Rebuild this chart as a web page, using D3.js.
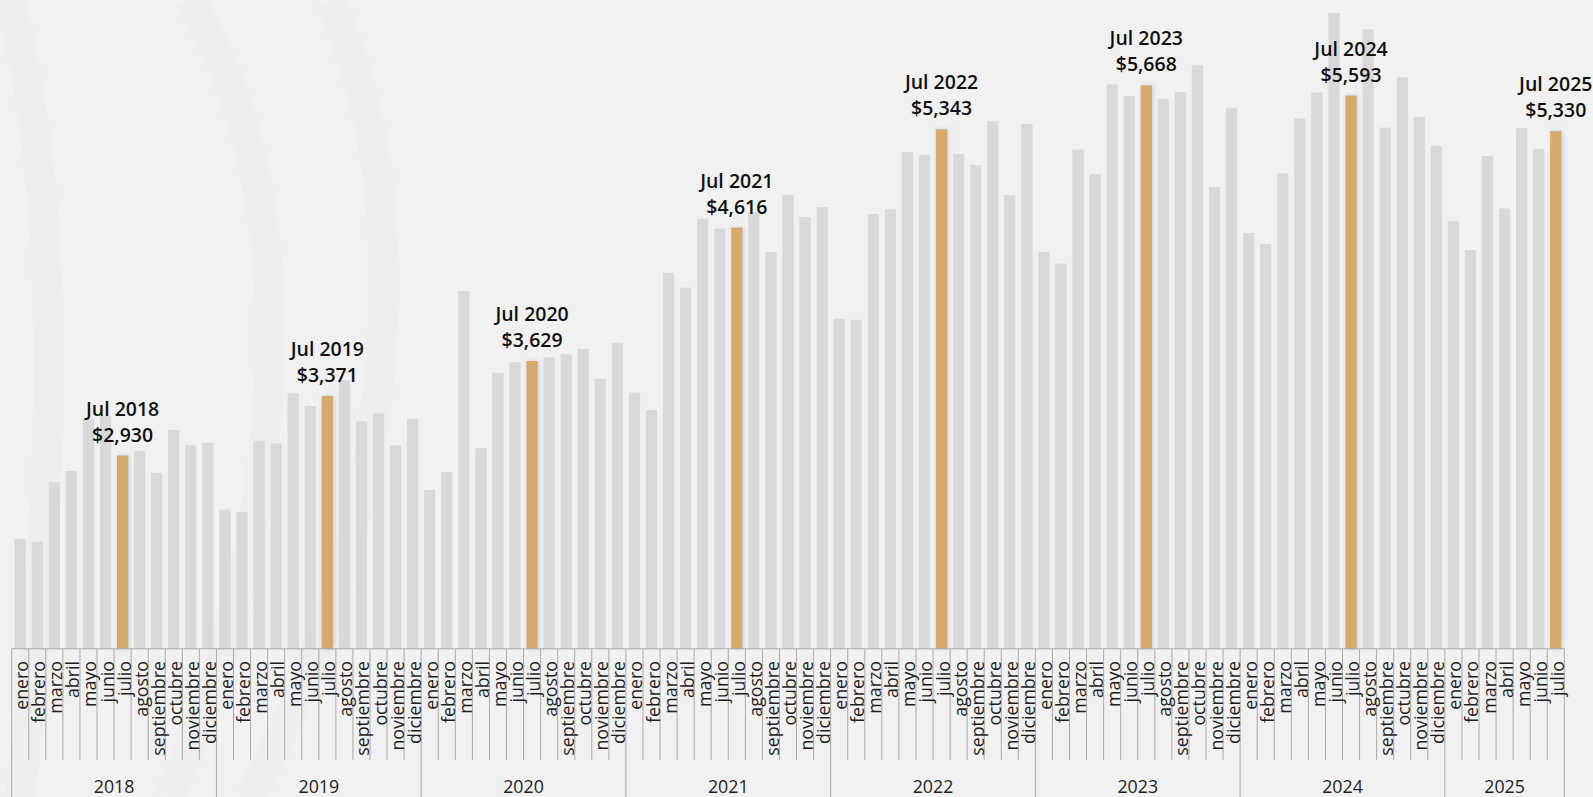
<!DOCTYPE html>
<html>
<head>
<meta charset="utf-8">
<script src="https://cdn.jsdelivr.net/npm/d3@7"></script>
<style>
  html, body { margin: 0; padding: 0; background: #f1f1f1; }
  svg { display: block; }
</style>
</head>
<body>
<svg id="chart" width="1593" height="797"></svg>
<script>
const months = ["enero","febrero","marzo","abril","mayo","junio","julio","agosto","septiembre","octubre","noviembre","diciembre"];
const years = ["2018","2019","2020","2021","2022","2023","2024","2025"];
const highlightMonth = "julio";
const monthAbbrev = "Jul";

const values2018 = [2313, 2292, 2733, 2815, 3205, 3222, 2930, 2963, 2802, 3119, 3005, 3024];
const values2019 = [2530, 2511, 3040, 3019, 3391, 3296, 3371, 3486, 3182, 3243, 3005, 3201];
const values2020 = [2675, 2807, 4147, 2984, 3542, 3620, 3629, 3655, 3679, 3719, 3497, 3764];
const values2021 = [3396, 3267, 4282, 4171, 4683, 4609, 4616, 4730, 4435, 4857, 4694, 4768];
const values2022 = [3941, 3933, 4717, 4752, 5175, 5151, 5343, 5161, 5079, 5404, 4857, 5383];
const values2023 = [4437, 4350, 5193, 5011, 5676, 5589, 5668, 5568, 5618, 5817, 4916, 5499];
const values2024 = [4577, 4496, 5016, 5423, 5616, 6205, 5593, 6082, 5356, 5728, 5435, 5221];
const values2025 = [4664, 4450, 5145, 4758, 5352, 5198, 5330];
const yDomain = [1500, 6300];

const valuesByYear = [values2018, values2019, values2020, values2021, values2022, values2023, values2024, values2025];

const data = [];
valuesByYear.forEach((vals, yi) => {
  vals.forEach((v, mi) => {
    data.push({ idx: data.length, year: years[yi], month: months[mi], value: v });
  });
});
const n = data.length;

const svg = d3.select("#chart");
const W = 1593, H = 797;
const left = 11.7, right = 1564.3, baseY = 648.8;

// background
svg.append("rect").attr("width", W).attr("height", H).attr("fill", "#f1f1f1");
const deco = svg.append("g").attr("fill", "none").attr("stroke", "#eeeeee").attr("stroke-width", 30).attr("opacity", 0.7);
deco.append("path").attr("d", "M10,0 C60,200 60,450 20,797");
deco.append("path").attr("d", "M190,0 C300,180 300,500 170,797");
deco.append("path").attr("d", "M330,0 C420,200 400,520 250,797");

const defs = svg.append("defs");
const glow = defs.append("filter").attr("id", "glow").attr("x", "-50%").attr("y", "-10%").attr("width", "200%").attr("height", "120%");
glow.append("feDropShadow").attr("dx", 1).attr("dy", 0).attr("stdDeviation", 2)
  .attr("flood-color", "#8fb0e6").attr("flood-opacity", 0.55);

const x = d3.scaleBand().domain(d3.range(n)).range([left, right]).paddingInner(0.34).paddingOuter(0.17);
const y = d3.scaleLinear().domain(yDomain).range([baseY, 0]);
const step = x.step();

// bars
svg.append("g").selectAll("rect").data(data).join("rect")
  .attr("x", d => x(d.idx))
  .attr("y", d => y(d.value))
  .attr("width", x.bandwidth())
  .attr("height", d => y(yDomain[0]) - y(d.value))
  .attr("fill", d => d.month === highlightMonth ? "#d7aa69" : "#d9d9d9")
  .attr("filter", d => d.month === highlightMonth ? "url(#glow)" : null);

// value labels for highlighted month
const fmt = d3.format(",");
const lab = svg.append("g").attr("font-family", "'Open Sans', sans-serif").attr("font-size", 19.5)
  .attr("font-weight", 600).attr("fill", "#111").attr("text-anchor", "middle");
data.filter(d => d.month === highlightMonth).forEach(d => {
  const cx = x(d.idx) + x.bandwidth() / 2;
  const ty = y(d.value);
  lab.append("text").attr("x", cx).attr("y", ty - 40).text(monthAbbrev + " " + d.year);
  lab.append("text").attr("x", cx).attr("y", ty - 14).text("$" + fmt(d.value));
});

// axis
const axis = svg.append("g").attr("stroke", "#a9a9a9").attr("stroke-width", 1);
axis.append("line").attr("x1", left).attr("x2", right).attr("y1", baseY).attr("y2", baseY);
const yearStarts = new Set();
let acc = 0;
valuesByYear.forEach(v => { yearStarts.add(acc); acc += v.length; });
yearStarts.add(n);
for (let i = 0; i <= n; i++) {
  const xx = x.range()[0] + i * step;
  axis.append("line").attr("x1", xx).attr("x2", xx).attr("y1", baseY)
    .attr("y2", yearStarts.has(i) ? H : 760);
}

// month labels
const ml = svg.append("g").attr("font-family", "'Open Sans', sans-serif").attr("font-size", 17.8).attr("fill", "#1e1e1e");
data.forEach(d => {
  const cx = x(d.idx) + x.bandwidth() / 2 + 8;
  ml.append("text").attr("transform", `translate(${cx},661) rotate(-90)`)
    .attr("text-anchor", "end").text(d.month);
});

// year labels
const yl = svg.append("g").attr("font-family", "'Open Sans', sans-serif").attr("font-size", 17.8)
  .attr("fill", "#1e1e1e").attr("text-anchor", "middle");
acc = 0;
valuesByYear.forEach((v, yi) => {
  const cx = x.range()[0] + (acc + v.length / 2) * step;
  yl.append("text").attr("x", cx).attr("y", 792.5).text(years[yi]);
  acc += v.length;
});
</script>
</body>
</html>
